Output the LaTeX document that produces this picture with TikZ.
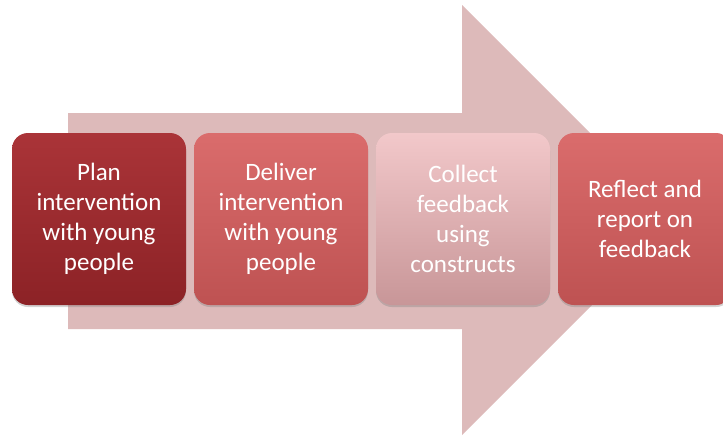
\documentclass[tikz,border=0pt]{standalone}
\usepackage{fontspec}
\setmainfont{Carlito}
\usetikzlibrary{shadows}
\definecolor{arrowpink}{RGB}{221,186,186}
\definecolor{darkred}{RGB}{170,52,56}
\definecolor{darkredb}{RGB}{140,34,38}
\definecolor{midred}{RGB}{218,108,108}
\definecolor{midredb}{RGB}{190,82,82}
\definecolor{lightpink}{RGB}{242,200,202}
\definecolor{lightpinkb}{RGB}{200,150,152}
\begin{document}
\begin{tikzpicture}[x=1pt,y=-1pt,
  stage/.style={rounded corners=16pt,minimum width=174pt,minimum height=172pt,
    align=center,text=white,font=\fontsize{25}{30}\selectfont,
    drop shadow={opacity=.35,shadow xshift=0pt,shadow yshift=-2pt}}]
\useasboundingbox(0,0) rectangle (723,439);
\clip(0,0) rectangle (723,439);
% big background arrow
\fill[arrowpink](68,113)--(462,113)--(462,5)--(677,220)--(462,435)--(462,329)--(68,329)--cycle;
% stages
\node[stage,top color=darkred,bottom color=darkredb](plan) at (99,219)
  {Plan\\intervention\\with young\\people};
\node[stage,top color=midred,bottom color=midredb](deliver) at (281,219)
  {Deliver\\intervention\\with young\\people};
\node[stage,top color=lightpink,bottom color=lightpinkb](collect) at (463,219)
  {Collect\\feedback\\using\\constructs};
\node[stage,top color=midred,bottom color=midredb](reflect) at (645,219)
  {Reflect and\\report on\\feedback};
\end{tikzpicture}
\end{document}
